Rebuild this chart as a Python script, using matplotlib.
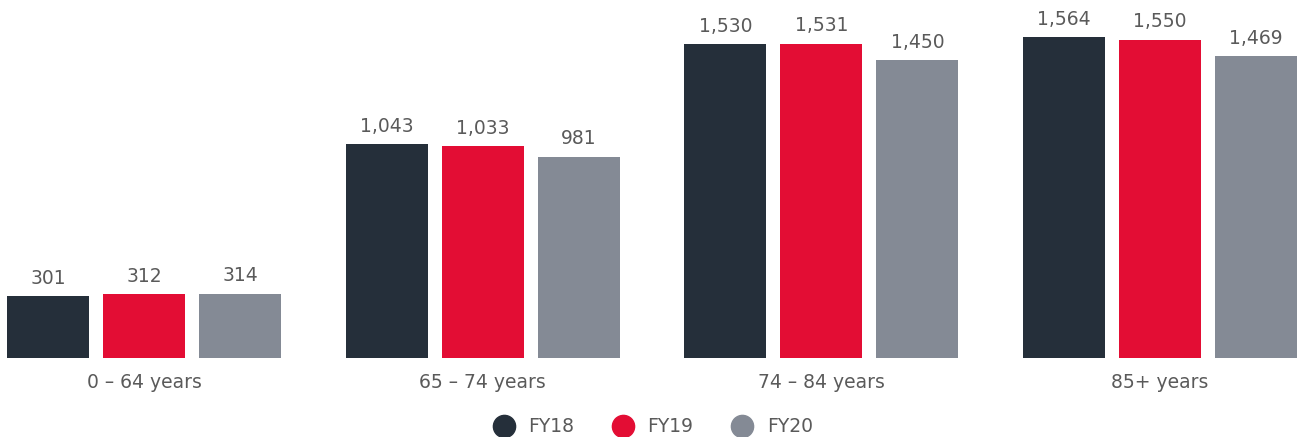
import numpy as np
import matplotlib
from matplotlib import pyplot as plt
from matplotlib.lines import Line2D

# 字体
plt.rcParams['font.family'] = ['DejaVu Sans']

categories = ['0 – 64 years', '65 – 74 years', '74 – 84 years', '85+ years']
series_names = ['FY18', 'FY19', 'FY20']
fy18 = [301, 1043, 1530, 1564]
fy19 = [312, 1033, 1531, 1550]
fy20 = [314, 981, 1450, 1469]
colors = ['#252f3a', '#e30d34', '#848a95']

fig = plt.figure(figsize=(12.98, 4.37), dpi=100)
ax = fig.add_axes([7 / 1298, 79 / 437, 1290 / 1298, 358 / 437])

x = np.arange(len(categories))
width = 0.2421
step = 0.2835
for i, (vals, col) in enumerate(zip([fy18, fy19, fy20], colors)):
    rects = ax.bar(x + (i - 1) * step, vals, width=width, color=col)
    for r, v in zip(rects, vals):
        ax.annotate('{:,}'.format(v), (r.get_x() + r.get_width() / 2, v),
                    xytext=(0, 6), textcoords='offset points',
                    ha='center', va='bottom', fontsize=13.5, color='#5a5a5a')

ax.set_xlim(-0.4045, 3.4045)
ax.set_ylim(0, 1744)
ax.set_xticks(x)
ax.set_xticklabels(categories, fontsize=13.5, color='#5a5a5a')
ax.tick_params(axis='x', length=0, pad=11)
ax.set_yticks([])
for s in ax.spines.values():
    s.set_visible(False)

handles = [Line2D([], [], marker='o', linestyle='', markersize=16,
                  markerfacecolor=c, markeredgecolor=c) for c in colors]
fig.legend(handles, series_names, loc='center', bbox_to_anchor=(0.5, 10 / 437),
           ncol=3, frameon=False, fontsize=13.5, handletextpad=0.3,
           columnspacing=1.6, labelcolor='#5a5a5a')

plt.savefig('out.png', dpi=100)
